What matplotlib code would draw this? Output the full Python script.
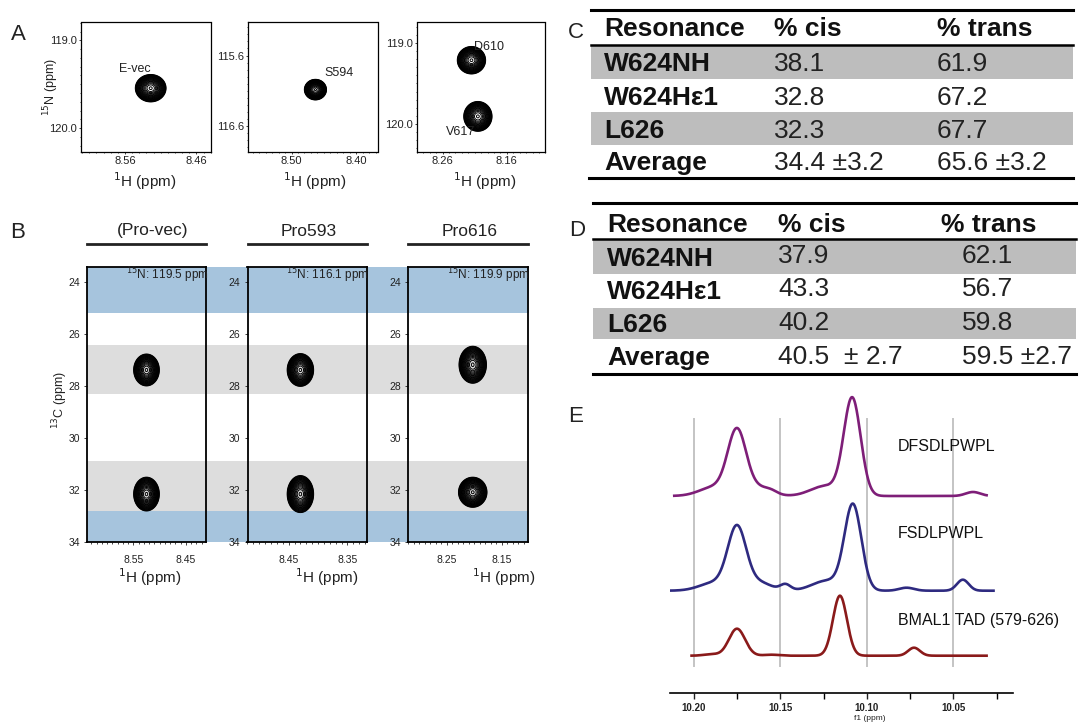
import numpy as np
import matplotlib
matplotlib.use("Agg")
import matplotlib.pyplot as plt
from matplotlib.patches import Rectangle
from matplotlib.lines import Line2D
from matplotlib.ticker import MultipleLocator, AutoMinorLocator

plt.rcParams['font.family'] = ['Liberation Sans', 'DejaVu Sans']

W, H = 1080, 723

# ---------------- DATA ----------------
# Panel A: 1H-15N HSQC peaks (H ppm, N ppm, H width sigma, N width sigma)
a_xlim = [(8.621, 8.440), (8.567, 8.367), (8.300, 8.100)]
a_ylim = [(120.27, 118.795), (116.97, 115.13), (120.35, 118.74)]
a_xticks = [[8.56, 8.46], [8.50, 8.40], [8.26, 8.16]]
a_yticks = [[119.0, 120.0], [115.6, 116.6], [119.0, 120.0]]
a_peak_h = [[8.524], [8.463], [8.215, 8.205]]
a_peak_n = [[119.545], [116.086], [119.21, 119.91]]
a_sig_h = [[0.0088], [0.0070], [0.0090, 0.0090]]
a_sig_n = [[0.064], [0.060], [0.070, 0.076]]
a_labels = [["E-vec"], ["S594"], ["D610", "V617"]]
a_label_h = [[8.546], [8.427], [8.187, 8.232]]
a_label_n = [[119.33], [115.85], [119.04, 120.10]]

# Panel B: 1H-13C strips
b_titles = ["(Pro-vec)", "Pro593", "Pro616"]
b_n_labels = ["119.5", "116.1", "119.9"]
b_xlim = [(8.6386, 8.411), (8.520, 8.317), (8.320, 8.103)]
b_ylim = (34.0, 23.44)
b_xticks = [[8.55, 8.45], [8.45, 8.35], [8.25, 8.15]]
b_yticks = [24, 26, 28, 30, 32, 34]
b_peak_h = [[8.525, 8.525], [8.430, 8.430], [8.2026, 8.2026]]
b_peak_c = [[27.39, 32.15], [27.39, 32.15], [27.19, 32.08]]
b_sig_h = [[0.0100, 0.0100], [0.0092, 0.0092], [0.0102, 0.0106]]
b_sig_c = [[0.25, 0.265], [0.257, 0.29], [0.29, 0.236]]
b_blue_bands = [(23.44, 25.22), (32.79, 34.0)]
b_gray_bands = [(26.42, 28.30), (30.89, 32.79)]

# Panel C / D tables
tbl_header = ["Resonance", "% cis", "% trans"]
c_res = ["W624NH", "W624H\u03b51", "L626", "Average"]
c_cis = ["38.1", "32.8", "32.3", "34.4 \u00b13.2"]
c_trans = ["61.9", "67.2", "67.7", "65.6 \u00b13.2"]
d_res = ["W624NH", "W624H\u03b51", "L626", "Average"]
d_cis = ["37.9", "43.3", "40.2", "40.5  \u00b1 2.7"]
d_trans = ["62.1", "56.7", "59.8", "59.5 \u00b12.7"]

# Panel E: 1D spectra (peak ppm, height, fwhm ppm)
e_names = ["DFSDLPWPL", "FSDLPWPL", "BMAL1 TAD (579-626)"]
e_colors = ["#7E1E78", "#2E2A80", "#8A1A1A"]
e_offsets = [197.3, 102.6, 37.6]
e_ranges = [(10.212, 10.030), (10.216, 10.026), (10.202, 10.030)]
e_pos = [[10.175, 10.1084, 10.188, 10.162, 10.124, 10.0386, 10.155],
         [10.175, 10.108, 10.188, 10.162, 10.123, 10.147, 10.077, 10.0445],
         [10.175, 10.1155, 10.0727, 10.190, 10.155]]
e_hgt = [[64, 97, 9, 8, 10, 4, 2],
         [62, 85, 8, 8, 10, 6, 3, 11],
         [27, 60, 8, 1.5, 1]]
e_fwhm = [[0.0125, 0.0115, 0.020, 0.016, 0.020, 0.010, 0.008],
          [0.0125, 0.0115, 0.020, 0.016, 0.020, 0.007, 0.010, 0.008],
          [0.0110, 0.0095, 0.008, 0.010, 0.010]]
e_ticks = [10.20, 10.15, 10.10, 10.05]
e_xlim = (10.2137, 10.0155)


def rect(x0, y0, x1, y1):
    return [x0 / W, 1 - y1 / H, (x1 - x0) / W, (y1 - y0) / H]


def gauss2d(X, Y, xs, ys, sx, sy):
    Z = np.zeros_like(X)
    for x0, y0, a, b in zip(xs, ys, sx, sy):
        Z += np.exp(-0.5 * (((X - x0) / a) ** 2 + ((Y - y0) / b) ** 2))
    return Z


levels = np.geomspace(0.05, 0.97, 22)
txtc = "#222222"

fig = plt.figure(figsize=(W / 100, H / 100), dpi=100)

# overlay axes in pixel coordinates
ov = fig.add_axes([0, 0, 1, 1], zorder=0)
ov.set_xlim(0, W)
ov.set_ylim(H, 0)
ov.axis("off")

# ---------------- Panel A ----------------
a_boxes = [(81.4, 22.5, 210.7, 151.7), (248.2, 22.5, 377.5, 151.7), (416.8, 22.5, 545.4, 151.7)]
a_xlab_x = [145, 315, 485]
for i, (x0, y0, x1, y1) in enumerate(a_boxes):
    ax = fig.add_axes(rect(x0, y0, x1, y1), zorder=2)
    xl, yl = a_xlim[i], a_ylim[i]
    gx = np.linspace(min(xl), max(xl), 260)
    gy = np.linspace(min(yl), max(yl), 260)
    X, Y = np.meshgrid(gx, gy)
    Z = gauss2d(X, Y, a_peak_h[i], a_peak_n[i], a_sig_h[i], a_sig_n[i])
    ax.contour(X, Y, Z, levels=levels, colors="black", linewidths=0.7)
    ax.set_xlim(*xl)
    ax.set_ylim(*yl)
    ax.set_xticks(a_xticks[i])
    ax.set_xticklabels([f"{v:.2f}" for v in a_xticks[i]])
    ax.set_yticks(a_yticks[i])
    ax.set_yticklabels([f"{v:.1f}" for v in a_yticks[i]])
    ax.xaxis.set_minor_locator(AutoMinorLocator(10))
    ax.yaxis.set_minor_locator(AutoMinorLocator(10))
    ax.tick_params(which="major", length=1.5, width=0.6, labelsize=8, pad=1.5, colors=txtc)
    ax.tick_params(which="minor", length=1.0, width=0.5)
    for s in ax.spines.values():
        s.set_linewidth(0.9)
    for lab, lh, ln in zip(a_labels[i], a_label_h[i], a_label_n[i]):
        ax.text(lh, ln, lab, fontsize=9, ha="center", va="center", color=txtc)
    ov.text(a_xlab_x[i], 181, "$^{1}$H (ppm)", fontsize=11, ha="center", va="center", color=txtc)
ov.text(51, 87, "$^{15}$N (ppm)", fontsize=9, rotation=90, ha="center", va="center", color=txtc)

# ---------------- Panel B ----------------
b_boxes = [(86.8, 267.0, 206.4, 542.3), (247.5, 267.0, 366.8, 542.3), (408.2, 267.0, 527.5, 542.3)]
bg = fig.add_axes(rect(86.8, 267.0, 528.6, 542.3), zorder=1)
bg.set_ylim(*b_ylim)
bg.set_xlim(0, 1)
for lo, hi in b_blue_bands:
    bg.axhspan(lo, hi, color="#A6C4DD", lw=0)
for lo, hi in b_gray_bands:
    bg.axhspan(lo, hi, color="#DDDDDD", lw=0)
bg.axis("off")

b_head_x = [152.5, 309, 469.6]
for i, (x0, y0, x1, y1) in enumerate(b_boxes):
    ax = fig.add_axes(rect(x0, y0, x1, y1), zorder=2)
    ax.patch.set_alpha(0)
    xl = b_xlim[i]
    gx = np.linspace(min(xl), max(xl), 220)
    gy = np.linspace(min(b_ylim), max(b_ylim), 400)
    X, Y = np.meshgrid(gx, gy)
    Z = gauss2d(X, Y, b_peak_h[i], b_peak_c[i], b_sig_h[i], b_sig_c[i])
    ax.contour(X, Y, Z, levels=levels, colors="black", linewidths=0.7)
    ax.set_xlim(*xl)
    ax.set_ylim(*b_ylim)
    ax.set_xticks(b_xticks[i])
    ax.set_xticklabels([f"{v:.2f}" for v in b_xticks[i]])
    ax.set_yticks(b_yticks)
    ax.xaxis.set_minor_locator(AutoMinorLocator(10))
    ax.tick_params(which="major", length=2.0, width=0.6, labelsize=7.5, pad=3, colors=txtc)
    ax.tick_params(axis="x", which="major", pad=7)
    ax.tick_params(which="minor", length=1.2, width=0.5)
    for s in ax.spines.values():
        s.set_linewidth(1.3)
    ax.text(1.0 + 2 / (x1 - x0), 1 - 8 / (y1 - y0), f"$^{{15}}$N: {b_n_labels[i]} ppm",
            transform=ax.transAxes, ha="right", va="center", fontsize=8.5, color=txtc,
            clip_on=False, zorder=5)
    # strip title and bar
    ov.text(b_head_x[i], 231, b_titles[i], fontsize=12.5, ha="center", va="center", color=txtc)
    ov.add_line(Line2D([x0, x1], [244, 244], color="#222222", lw=2.0))
ov.text(60, 400, "$^{13}$C (ppm)", fontsize=9, rotation=90, ha="center", va="center", color=txtc)

b_xlab_x = [150, 327, 503.6]
for xx in b_xlab_x:
    ov.text(xx, 577, "$^{1}$H (ppm)", fontsize=11, ha="center", va="center", color=txtc)

# ---------------- Panels C & D (tables) ----------------
def draw_table(top, head_y, sep_y, row_y, gray_rows, bottom, xl, xr, xb_l, cols, trans_num_x,
               res, cis, trans, num_dy):
    ov.add_line(Line2D([xl, xr], [top, top], color="black", lw=2.2))
    ov.add_line(Line2D([xl, xr], [sep_y, sep_y], color="black", lw=1.8))
    ov.add_line(Line2D([xb_l, xr], [bottom, bottom], color="black", lw=2.2))
    for g0, g1 in gray_rows:
        ov.add_patch(Rectangle((xl, g0), xr - xl, g1 - g0, color="#BDBDBD", lw=0, zorder=0))
    fs = 19
    for txt, cx in zip(tbl_header, cols):
        ov.text(cx, head_y, txt, fontsize=fs, fontweight="bold", ha="left", va="center", color="#111111")
    for k in range(len(res)):
        ov.text(cols[0], row_y[k], res[k], fontsize=fs, fontweight="bold", ha="left", va="center", color="#111111")
        ov.text(cols[1], row_y[k] + num_dy[k], cis[k], fontsize=fs, ha="left", va="center", color=txtc)
        ov.text(trans_num_x, row_y[k] + num_dy[k], trans[k], fontsize=fs, ha="left", va="center", color=txtc)


draw_table(10, 29, 45, [64, 98, 131, 163], [(45, 79), (112, 145)], 178, 591, 1073, 589,
           [604, 774, 937], 937, c_res, c_cis, c_trans, [0, 0, 0, 0])
draw_table(203, 225, 239, [259, 292, 325, 358], [(239, 274), (308, 339)], 374, 593, 1076, 593,
           [607, 778, 941], 962, d_res, d_cis, d_trans, [-3, -3, -2, -1])

# ---------------- Panel E ----------------
axE = fig.add_axes(rect(670, 380, 1013, 693.3), zorder=2)
axE.patch.set_alpha(0)
axE.set_xlim(*e_xlim)
axE.set_ylim(0, 313.3)
for t in e_ticks:
    axE.plot([t, t], [693.3 - 666, 693.3 - 419], color="#C4C4C4", lw=1.4, zorder=1)
for name, col, off, rng, ps, hs, ws in zip(e_names, e_colors, e_offsets, e_ranges, e_pos, e_hgt, e_fwhm):
    x = np.linspace(rng[0], rng[1], 800)
    y = np.zeros_like(x)
    for p, h, w in zip(ps, hs, ws):
        s = w / 2.3548
        y += h * np.exp(-0.5 * ((x - p) / s) ** 2)
    axE.plot(x, y + off, color=col, lw=1.9, zorder=3, solid_capstyle="butt")
e_label_y = [693.3 - 446.7, 693.3 - 533.3, 693.3 - 620]
for name, ly in zip(e_names, e_label_y):
    axE.text(10.082, ly, name, fontsize=11.5, ha="left", va="center", color="#111111")
for s in ["top", "right", "left"]:
    axE.spines[s].set_visible(False)
axE.spines["bottom"].set_linewidth(1.2)
axE.set_yticks([])
axE.set_xticks(e_ticks)
axE.set_xticklabels([f"{v:.2f}" for v in e_ticks])
axE.xaxis.set_minor_locator(MultipleLocator(0.025))
axE.tick_params(axis="x", which="major", length=4, width=1.0, labelsize=7, pad=3, colors=txtc)
axE.tick_params(axis="x", which="minor", length=4, width=1.0)
for lab in axE.get_xticklabels():
    lab.set_fontweight("bold")
ov.text(870, 718, "f1 (ppm)", fontsize=6, ha="center", va="center", color=txtc)

# panel letters
for letter, (lx, ly) in zip("ABCDE", [(18, 35), (18, 232), (576, 32), (577, 231), (576, 417)]):
    ov.text(lx, ly, letter, fontsize=16, ha="center", va="center", color=txtc)

fig.savefig("out.png", dpi=100)
